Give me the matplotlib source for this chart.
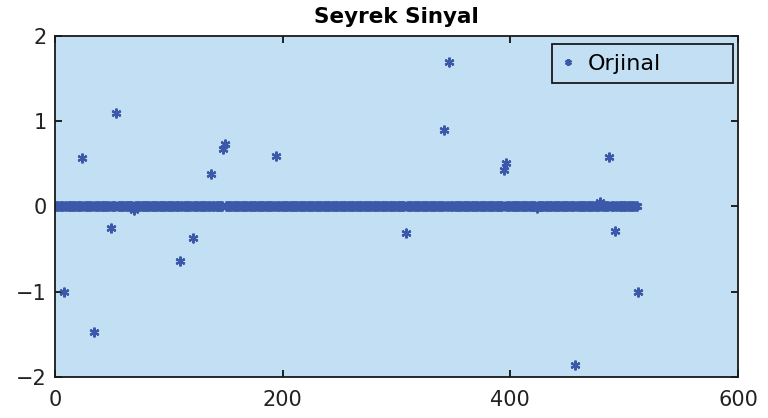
import numpy as np
import matplotlib
matplotlib.use('Agg')
import matplotlib.pyplot as plt
from matplotlib.patches import Rectangle

# sparse signal: 512 samples, zero except for these spikes
n_samples = 512
spike_idx = [8, 24, 34, 34, 54, 49, 69, 110, 121, 137, 148, 149, 194,
             308, 342, 346, 394, 396, 423, 457, 479, 487, 492, 512]
spike_val = [-1.0, 0.57, 0.62, -1.47, 1.10, -0.25, -0.04, -0.64, -0.37, 0.38, 0.68, 0.73, 0.59,
             -0.31, 0.90, 1.69, 0.43, 0.51, -0.02, -1.86, 0.05, 0.58, -0.29, -1.0]

x = np.arange(1, n_samples + 1)
y = np.zeros(n_samples)
for i, v in zip(spike_idx, spike_val):
    y[i - 1] = v

plt.rcParams['font.family'] = ['DejaVu Sans']

fig = plt.figure(figsize=(7.68, 4.18), dpi=100)
ax = fig.add_axes([0.0716, 0.098, 0.8894, 0.816])
ax.set_facecolor('#c2dff3')

# MATLAB-like asterisk marker
ax.plot(x, y, linestyle='none', marker=(6, 2, 0), color='#3c58a8',
        markersize=7, markeredgewidth=1.6, label='Orjinal')

ax.set_xlim(0, 600)
ax.set_ylim(-2, 2)
ax.set_xticks([0, 200, 400, 600])
ax.set_yticks([-2, -1, 0, 1, 2])
ax.set_yticklabels(['\u22122', '\u22121', '0', '1', '2'])
ax.tick_params(direction='in', top=True, right=True, length=5, width=1.2,
               labelsize=15, pad=6, labelcolor='#222222')
ax.tick_params(axis='x', pad=9)
for s in ax.spines.values():
    s.set_linewidth(1.3)
    s.set_color('#1a1a1a')

ax.set_title('Seyrek Sinyal', fontsize=15.5, fontweight='bold', pad=9)

# legend box drawn MATLAB style (wide frame, text on the left)
ax.add_patch(Rectangle((0.728, 0.862), 0.265, 0.115, transform=ax.transAxes,
                       facecolor='#c2dff3', edgecolor='#1a1a1a', linewidth=1.3,
                       zorder=5))
leg = ax.legend(loc='center left', bbox_to_anchor=(0.728, 0.919), fontsize=16,
                frameon=False, borderaxespad=0, handlelength=0.8,
                handletextpad=0.5, borderpad=0.3, markerscale=0.7)
leg.set_zorder(6)

fig.savefig('out.png', dpi=100)
